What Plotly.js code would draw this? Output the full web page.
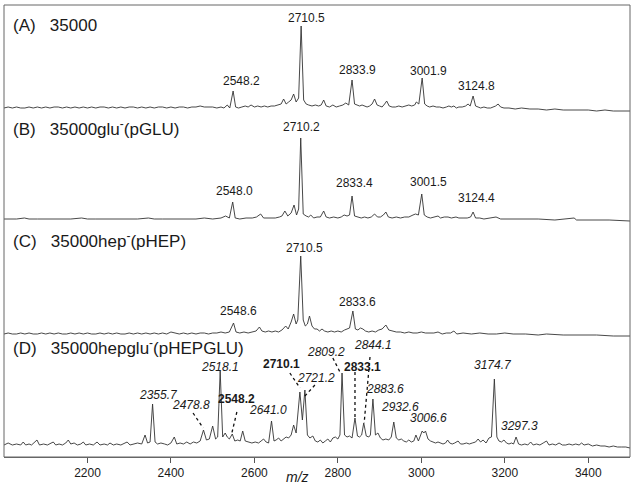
<!DOCTYPE html>
<html>
<head>
<meta charset="utf-8">
<script src="https://cdn.plot.ly/plotly-3.0.1.min.js"></script>
<style>html,body{margin:0;padding:0;background:#fff;}#chart{width:637px;height:486px;}</style>
</head>
<body>
<div id="chart"></div>
<script>
// ---- Data (m/z, relative intensity above local baseline) ----
const mzA = [2000,2010,2020,2030,2040,2050,2060,2070,2080,2090,2100,2110,2120,2130,2140,2150,2160,2170,2180,2190,2200,2210,2220,2230,2240,2250,2260,2270,2280,2290,2300,2310,2320,2330,2340,2350,2360,2370,2380,2390,2400,2410,2420,2430,2440,2450,2460,2470,2480,2490,2500,2510,2520,2527,2535,2541,2549,2555,2562,2570,2578,2585,2592,2600,2608,2616,2624,2632,2640,2648,2656,2664,2670,2676,2682,2688,2694,2700,2706,2712,2718,2724,2730,2738,2746,2754,2760,2766,2772,2780,2788,2796,2804,2812,2819,2826,2834,2840,2846,2852,2858,2864,2870,2876,2882,2888,2894,2900,2906,2912,2917,2923,2930,2938,2946,2954,2962,2970,2977,2984,2988,2994,3002,3008,3014,3020,3028,3036,3044,3052,3060,3066,3072,3078,3084,3090,3098,3106,3112,3117,3124,3130,3136,3142,3150,3158,3166,3172,3178,3184,3190,3198,3210,3225,3240,3260,3280,3300,3320,3340,3360,3380,3400,3420,3440,3460,3480,3500];
const intA = [0,1,0,1,0,0,1,0,1,0,1,0,1,1,0,1,0,1,0,1,0,1,0,1,1,0,1,0,1,0,1,1,0,1,0,1,0,1,1,0,1,0,1,1,0,1,1,2,1,1,1,0,1,0,3,0,17,1,0,1,2,1,3,1,2,1,2,1,2,2,3,4,9,4,6,8,14,6,10,82,8,4,3,2,3,2,3,8,2,1,3,1,2,3,5,3,28,4,3,2,3,2,1,2,4,9,3,2,1,4,7,2,1,1,2,1,2,3,2,3,6,4,30,4,2,1,2,1,1,0,1,2,1,2,0,1,1,2,4,2,12,2,1,0,1,0,0,1,2,4,1,0,0,-1,0,-1,-1,-2,-1,-2,-2,-2,-2,-3,-2,-3,-3,-3];

const mzB = [2000,2015,2030,2049,2060,2080,2100,2120,2140,2160,2186,2200,2220,2240,2260,2280,2300,2320,2346,2360,2380,2400,2420,2440,2460,2480,2500,2520,2531,2540,2548,2554,2565,2580,2595,2605,2615,2622,2635,2650,2660,2666,2673,2680,2688,2695,2701,2706,2711,2717,2724,2730,2735,2742,2750,2758,2766,2772,2780,2790,2800,2808,2815,2822,2828,2834,2840,2848,2856,2864,2872,2880,2888,2895,2902,2909,2915,2921,2930,2940,2950,2960,2970,2980,2986,2993,3001,3007,3014,3022,3030,3040,3046,3055,3064,3072,3083,3090,3100,3110,3118,3124,3130,3140,3150,3165,3179,3190,3210,3240,3280,3320,3366,3372,3400,3450,3500];
const intB = [0,0,0,1,0,0,0,0,0,0,1,0,0,0,0,0,0,0,1,0,0,0,0,0,0,1,0,1,3,1,17,1,0,1,1,2,5,1,1,1,2,3,8,3,6,14,4,10,81,5,3,2,4,1,2,2,8,2,1,2,1,2,4,3,4,23,3,2,1,2,1,2,5,2,2,4,7,2,1,2,1,2,2,4,5,4,25,4,2,1,2,3,1,2,2,1,2,1,1,1,2,7,1,1,0,1,2,0,0,0,0,-1,1,-1,-1,-1,-2];

const mzC = [2000,2010,2020,2030,2040,2050,2060,2070,2080,2090,2100,2110,2120,2130,2140,2150,2160,2170,2180,2190,2200,2210,2220,2230,2240,2250,2260,2270,2280,2290,2300,2310,2320,2330,2340,2350,2360,2370,2380,2390,2400,2410,2420,2430,2440,2450,2460,2470,2480,2490,2500,2510,2520,2530,2540,2550,2556,2565,2575,2585,2595,2604,2612,2618,2626,2634,2642,2650,2658,2666,2675,2681,2688,2694,2700,2704,2711,2717,2722,2727,2732,2738,2744,2750,2756,2762,2768,2776,2784,2792,2800,2808,2816,2822,2828,2836,2842,2848,2854,2860,2866,2874,2882,2890,2898,2906,2915,2922,2930,2940,2950,2960,2970,2980,2990,3000,3010,3020,3030,3040,3050,3060,3070,3078,3085,3100,3120,3140,3160,3180,3200,3220,3250,3280,3300,3340,3380,3420,3460,3500];
const intC = [0,1,0,0,1,0,1,0,0,1,0,1,0,1,0,0,1,0,1,0,1,0,0,1,0,1,0,1,0,0,1,0,1,0,1,0,1,0,1,0,2,1,0,1,0,1,0,1,1,0,1,1,2,1,2,11,2,1,2,1,2,3,7,3,2,3,2,3,2,4,8,5,12,20,10,14,78,14,8,10,18,8,5,5,3,5,3,2,3,2,3,2,4,5,6,23,5,4,6,5,3,2,3,2,4,5,9,4,3,2,2,1,2,1,1,2,1,1,1,2,0,1,1,3,0,1,0,1,0,0,1,0,0,-1,0,-1,-1,-1,-2,-2];

const mzD = [2000,2010,2020,2030,2040,2046,2052,2060,2066,2072,2079,2085,2095,2104,2112,2118,2124,2132,2140,2148,2154,2160,2168,2176,2184,2190,2196,2205,2214,2223,2230,2240,2248,2254,2262,2270,2280,2288,2295,2302,2312,2320,2330,2338,2344,2350,2356,2362,2368,2376,2385,2392,2400,2408,2414,2422,2430,2438,2446,2454,2462,2470,2478,2485,2492,2500,2507,2512,2518,2524,2530,2535,2540,2547,2553,2560,2566,2572,2578,2586,2594,2602,2610,2616,2622,2628,2634,2641,2647,2652,2658,2664,2670,2676,2682,2688,2694,2700,2709,2715,2721,2727,2733,2740,2746,2752,2758,2764,2770,2776,2782,2788,2794,2800,2805,2810,2816,2822,2828,2834,2841,2847,2852,2857,2862,2868,2874,2878,2884,2890,2896,2902,2908,2915,2922,2928,2934,2940,2946,2952,2958,2964,2970,2976,2982,2987,2993,2998,3002,3006,3010,3016,3022,3028,3034,3040,3046,3052,3058,3063,3068,3074,3080,3088,3094,3100,3108,3115,3122,3130,3136,3142,3148,3155,3162,3168,3175,3181,3186,3192,3198,3204,3210,3216,3221,3227,3233,3240,3248,3255,3262,3268,3276,3284,3292,3300,3306,3314,3322,3330,3338,3346,3354,3362,3370,3378,3384,3390,3400,3410,3420,3430,3440,3450,3460,3470,3480,3490,3500];
const intD = [0,2,0,1,0,3,0,1,0,2,5,0,1,0,2,3,0,1,0,2,5,1,2,0,1,3,0,1,0,3,0,1,0,2,0,1,0,2,3,0,1,2,1,10,2,3,41,3,1,2,1,0,2,8,1,2,1,3,1,3,2,4,15,5,6,19,6,8,74,8,12,8,6,11,4,5,4,14,4,3,2,3,2,4,6,3,2,24,4,5,7,4,6,8,7,10,20,12,53,25,55,10,7,9,4,3,5,2,4,6,3,7,8,6,10,72,10,8,9,7,27,9,8,10,22,9,8,10,46,10,12,7,5,6,5,8,23,7,5,6,4,3,5,3,4,10,4,9,14,12,14,6,4,3,2,3,2,1,2,5,2,1,2,4,1,1,2,1,2,3,6,3,5,2,7,8,66,8,4,3,5,2,1,2,1,8,1,0,1,0,3,0,1,0,2,4,0,1,0,2,0,0,1,0,1,0,2,0,1,-1,0,-1,-1,-2,-1,-2,-2,-2,-3];

// ---- Labels ----
const panelLabels = ["(A)\u00a0\u00a0\u00a035000", "(B)\u00a0\u00a0\u00a035000glu<sup>-</sup>(pGLU)", "(C)\u00a0\u00a0\u00a035000hep<sup>-</sup>(pHEP)", "(D)\u00a0\u00a0\u00a035000hepglu<sup>-</sup>(pHEPGLU)"];
const labelsA = ["2548.2","2710.5","2833.9","3001.9","3124.8"];
const labelsB = ["2548.0","2710.2","2833.4","3001.5","3124.4"];
const labelsC = ["2548.6","2710.5","2833.6"];
const labelsD = ["2355.7","2478.8","2518.1","2548.2","2641.0","2710.1","2721.2","2809.2","2833.1","2844.1","2883.6","2932.6","3006.6","3174.7","3297.3"];
const boldD = ["2548.2","2710.1","2833.1"];
const tickVals = [2200,2400,2600,2800,3000,3200,3400];

// label placement (x in m/z, y relative to baseline)
const posA = [[2568,27],[2726,90],[2846,38],[3016,37],[3133,22]];
const posB = [[2553,28],[2714,92],[2841,36],[3018,37],[3133,21]];
const posC = [[2561,23],[2721,86],[2848,32]];
const posD = [[2369,50],[2448,40],[2518,78.5],[2558,46],[2633,35],[2666,81],[2748,67],[2771,93],[2858,78],[2884,100],[2913,56],[2949,38],[3016,27],[3172,80],[3236,19]];
const leaders = [
  [[2453,32],[2477,17]],
  [[2558,33],[2546,12]],
  [[2685,72],[2709,57]],
  [[2745,60],[2721,49]],
  [[2788,87],[2805,73]],
  [[2841,73],[2841,27]],
  [[2877,88],[2863,22]]
];

const FONT = "Liberation Sans, Arial, Helvetica, sans-serif";
const lineStyle = {color:"#333", width:0.9};
const series = [[mzA,intA,"y"],[mzB,intB,"y2"],[mzC,intC,"y3"],[mzD,intD,"y4"]];
const traces = series.map(s => ({x:s[0], y:s[1], xaxis:"x", yaxis:s[2], type:"scatter", mode:"lines", line:lineStyle, hoverinfo:"skip"}));

const annotations = [];
const yrefs = ["y","y2","y3","y4"];
const panelY = [83,91,94,98];
panelLabels.forEach((t,i)=>annotations.push({text:t, xref:"paper", x:0.0135, xanchor:"left", yref:yrefs[i], y:panelY[i], yanchor:"middle", showarrow:false, borderpad:0, font:{family:FONT,size:17,color:"#1a1a1a"}}));
function addLabels(labels,pos,yref){
  labels.forEach((t,i)=>{
    let txt = t;
    if(yref==="y4") txt = boldD.includes(t) ? "<b>"+t+"</b>" : "<i>"+t+"</i>";
    annotations.push({text:txt, xref:"x", x:pos[i][0], yref:yref, y:pos[i][1], xanchor:"center", yanchor:"middle", showarrow:false, borderpad:0, font:{family:FONT,size:12,color:"#1a1a1a"}});
  });
}
addLabels(labelsA,posA,"y");
addLabels(labelsB,posB,"y2");
addLabels(labelsC,posC,"y3");
addLabels(labelsD,posD,"y4");
annotations.push({text:"<i>m/z</i>", xref:"x", x:2704, yref:"paper", y:-0.044, xanchor:"center", yanchor:"middle", showarrow:false, font:{family:FONT,size:14,color:"#1a1a1a"}});

const shapes = [{type:"rect", xref:"paper", yref:"paper", x0:0, x1:1, y0:0, y1:1, line:{color:"#666", width:1}}];
leaders.forEach(l=>shapes.push({type:"line", xref:"x", yref:"y4", x0:l[0][0], y0:l[0][1], x1:l[1][0], y1:l[1][1], line:{color:"#111", width:1.3, dash:"dot"}}));

const yBase = {showgrid:false, zeroline:false, showticklabels:false, showline:false, ticks:"", anchor:"x", fixedrange:true};
const layout = {
  width:637, height:486,
  margin:{l:4, r:7, t:5, b:29},
  paper_bgcolor:"#fff", plot_bgcolor:"#fff",
  showlegend:false,
  xaxis:{range:[2000,3500], anchor:"y4", tickvals:tickVals, ticks:"outside", ticklen:5, tickcolor:"#555", showline:true, linecolor:"#666", linewidth:1, showgrid:false, zeroline:false, tickfont:{family:FONT,size:12,color:"#1a1a1a"}},
  yaxis: Object.assign({}, yBase, {domain:[0.75,1], range:[-10,103]}),
  yaxis2: Object.assign({}, yBase, {domain:[0.5,0.75], range:[-12,101]}),
  yaxis3: Object.assign({}, yBase, {domain:[0.25,0.5], range:[-10,103]}),
  yaxis4: Object.assign({}, yBase, {domain:[0,0.25], range:[-12,101]}),
  annotations:annotations,
  shapes:shapes
};
Plotly.newPlot("chart", traces, layout, {displayModeBar:false, staticPlot:true});
</script>
</body>
</html>
